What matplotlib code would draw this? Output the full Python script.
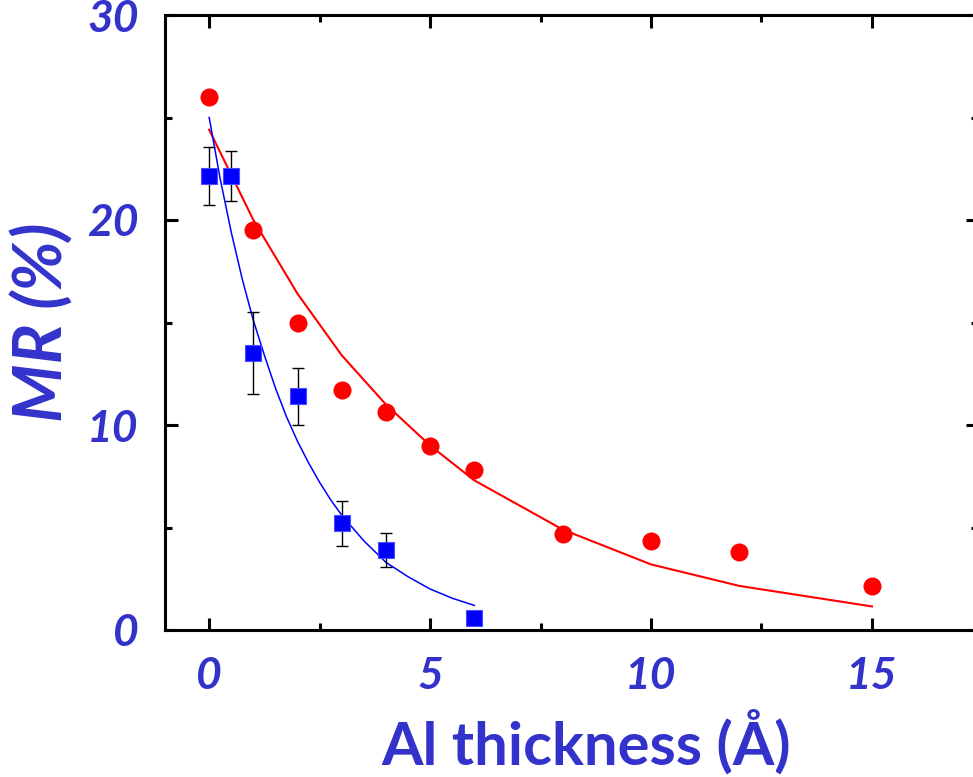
import matplotlib
matplotlib.use("Agg")
import matplotlib.pyplot as plt
from matplotlib.ticker import MultipleLocator

# measured MR vs Al thickness
red_x = [0, 1, 2, 3, 4, 5, 6, 8, 10, 12, 15]
red_y = [26.0, 19.5, 15.0, 11.7, 10.65, 9.0, 7.8, 4.7, 4.35, 3.8, 2.15]

blue_x = [0, 0.5, 1, 2, 3, 4, 6]
blue_y = [22.15, 22.15, 13.5, 11.4, 5.2, 3.9, 0.6]
blue_err = [1.4, 1.2, 2.0, 1.4, 1.1, 0.85, 0.15]

# fitted curves
red_fit_x = [0, 1, 2, 3, 4, 5, 6, 8, 10, 12, 15]
red_fit_y = [24.4, 20.0, 16.4, 13.4, 11.0, 9.0, 7.3, 4.9, 3.2, 2.15, 1.15]

blue_fit_x = [0, 0.25, 0.5, 0.75, 1, 1.25, 1.5, 1.75, 2, 2.25, 2.5, 2.75, 3,
              3.5, 4, 4.5, 5, 5.5, 6]
blue_fit_y = [25.0, 22.0, 19.4, 17.1, 15.1, 13.4, 11.8, 10.4, 9.2, 8.15, 7.2,
              6.35, 5.6, 4.35, 3.3, 2.6, 2.0, 1.55, 1.2]

label_color = '#3333cc'

fig = plt.figure(figsize=(9.73, 7.77), dpi=100)
ax = fig.add_axes([165 / 973, 147 / 777, (978 - 165) / 973, 615 / 777])

ax.plot(red_fit_x, red_fit_y, color='red', lw=1.5, zorder=2)
ax.plot(blue_fit_x, blue_fit_y, color='blue', lw=1.1, zorder=2)

ax.errorbar(blue_x, blue_y, yerr=blue_err, fmt='none', ecolor='black',
            elinewidth=1.0, capsize=4, capthick=1.0, zorder=3)
ax.plot(blue_x, blue_y, 's', color='blue', markersize=11.5,
        markeredgecolor='#4a4aff', markeredgewidth=0.8, zorder=4)
ax.plot(red_x, red_y, 'o', color='red', markersize=13, markeredgewidth=0, zorder=4)

ax.set_xlim(-1, 17.4)
ax.set_ylim(0, 30)

ax.xaxis.set_major_locator(MultipleLocator(5))
ax.xaxis.set_minor_locator(MultipleLocator(2.5))
ax.yaxis.set_major_locator(MultipleLocator(10))
ax.yaxis.set_minor_locator(MultipleLocator(5))

for s in ax.spines.values():
    s.set_linewidth(2.2)

ax.tick_params(which='both', direction='in', top=True, right=True, width=2.2)
ax.tick_params(which='major', length=9)
ax.tick_params(which='minor', length=5)
ax.tick_params(axis='x', which='major', pad=19)
ax.tick_params(axis='y', which='major', pad=19)

for lab in ax.get_xticklabels() + ax.get_yticklabels():
    lab.set_fontfamily('Lato')
    lab.set_fontweight('bold')
    lab.set_fontstyle('italic')
    lab.set_fontsize(32)
    lab.set_color(label_color)

ax.set_xlabel('Al thickness (Å)', fontfamily='Lato', fontweight='bold',
              fontsize=43, color=label_color)
ax.xaxis.set_label_coords(0.518, -0.128)
ax.set_ylabel('MR (%)', fontfamily='Lato', fontweight='bold', fontstyle='italic',
              fontsize=48, color=label_color, labelpad=10)

fig.savefig('out.png', dpi=100)
